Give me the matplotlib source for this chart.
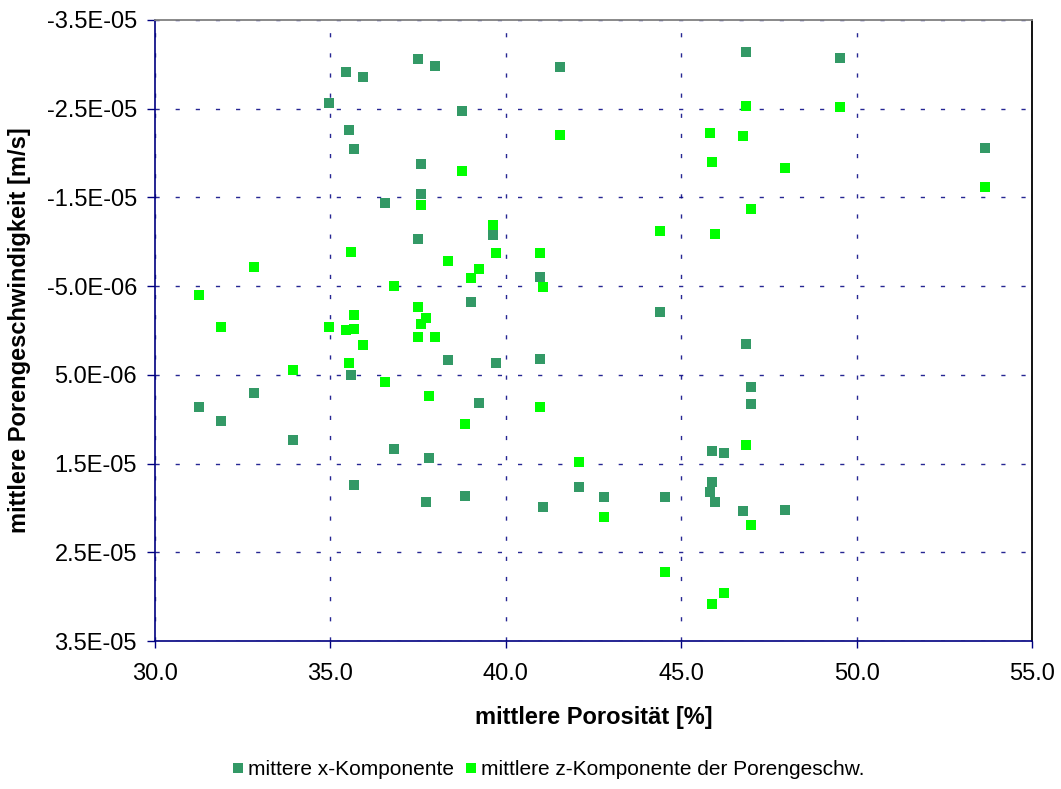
import numpy as np
import matplotlib
matplotlib.use("Agg")
import matplotlib.pyplot as plt
from matplotlib.ticker import FuncFormatter, MultipleLocator

plt.rcParams['font.family'] = ['Liberation Sans', 'DejaVu Sans']
plt.rcParams['lines.scale_dashes'] = False

# mittlere Porositaet [%] and Porengeschwindigkeit [m/s]
x_por = [37.50, 37.97, 35.44, 35.92, 34.97, 35.52, 35.68, 37.58, 37.58, 36.55,
         37.50, 41.55, 38.76, 39.64, 40.98, 39.00, 44.39, 46.85, 49.53, 53.65,
         35.60, 32.83, 31.25, 31.88, 33.94, 36.80, 37.82, 35.68, 37.73, 38.36,
         39.71, 40.98, 39.24, 38.84, 42.09, 42.80, 44.55, 41.06, 45.89, 46.21,
         45.89, 45.81, 45.97, 46.85, 47.00, 47.00, 46.76, 47.95]
x_vel = [-3.057, -2.982, -2.911, -2.855, -2.562, -2.265, -2.051, -1.878, -1.541, -1.439,
         -1.030, -2.967, -2.479, -1.079, -0.606, -0.324, -0.212, -3.136, -3.076, -2.055,
         0.501, 0.708, 0.866, 1.019, 1.230, 1.331, 1.432, 1.744, 1.931, 0.329,
         0.370, 0.321, 0.817, 1.869, 1.766, 1.879, 1.879, 1.992, 1.354, 1.384,
         1.710, 1.819, 1.931, 0.152, 0.640, 0.828, 2.029, 2.021]

z_por = [35.60, 32.83, 38.36, 36.80, 31.25, 35.68, 37.50, 37.73, 37.58, 35.68,
         37.58, 31.88, 34.97, 35.44, 35.92, 35.52, 37.50, 37.97, 33.94, 36.55,
         37.82, 41.55, 38.76, 45.81, 45.89, 39.64, 44.39, 45.97, 39.71, 40.98,
         39.24, 39.00, 41.06, 46.85, 49.53, 46.76, 47.95, 47.00, 53.65, 40.98,
         38.84, 42.09, 42.80, 44.55, 46.21, 45.89, 46.85, 47.00]
z_vel = [-0.880, -0.719, -0.789, -0.501, -0.395, -0.178, -0.268, -0.136, -0.077, -0.020,
         -1.417, -0.045, -0.041, -0.011, 0.160, 0.363, 0.073, 0.073, 0.449, 0.584,
         0.742, -2.205, -1.803, -2.224, -1.904, -1.191, -1.120, -1.093, -0.870, -0.876,
         -0.693, -0.587, -0.486, -2.532, -2.517, -2.197, -1.837, -1.372, -1.623, 0.866,
         1.057, 1.477, 2.105, 2.724, 2.956, 3.084, 1.294, 2.198]

x_vel = np.array(x_vel) * 1e-5
z_vel = np.array(z_vel) * 1e-5

fig = plt.figure(figsize=(10.61, 7.89), dpi=100)
ax = fig.add_axes([155 / 1061, 1 - 641 / 789, 877 / 1061, 621 / 789])

navy = '#000080'
ax.plot(x_por, x_vel, 's', color='#339966', markersize=6.8, markeredgewidth=0,
        label='mittere x-Komponente', zorder=3)
ax.plot(z_por, z_vel, 's', color='#00FF00', markersize=6.8, markeredgewidth=0,
        label='mittlere z-Komponente der Porengeschw.', zorder=3)

ax.set_xlim(30, 55)
ax.set_ylim(3.5e-5, -3.5e-5)
ax.xaxis.set_major_locator(MultipleLocator(5))
ax.set_yticks(np.arange(-3.5e-5, 3.6e-5, 1e-5))
ax.xaxis.set_major_formatter(FuncFormatter(lambda v, p: f'{v:.1f}'))
ax.yaxis.set_major_formatter(FuncFormatter(lambda v, p: f'{v:.1E}'))

ax.grid(True, color=navy, linewidth=1.0, linestyle=(0, (3, 11.5)), alpha=0.85)
ax.set_axisbelow(True)

for side in ['left', 'bottom']:
    ax.spines[side].set_color(navy)
    ax.spines[side].set_linewidth(1.2)
ax.spines['top'].set_color('#808080')
ax.spines['top'].set_linewidth(1.3)
ax.spines['right'].set_color('black')
ax.spines['right'].set_linewidth(1.3)

ax.tick_params(axis='both', colors=navy, labelcolor='black', labelsize=17, width=1)
ax.tick_params(axis='y', length=6, pad=7)
ax.tick_params(axis='x', length=5, pad=11)

ax.set_xlabel('mittlere Porosität [%]', fontsize=17, fontweight='bold')
ax.set_ylabel('mittlere Porengeschwindigkeit [m/s]', fontsize=17, fontweight='bold')
ax.xaxis.set_label_coords(0.5, -0.105)
ax.yaxis.set_label_coords(-0.141, 0.5)

fig.legend(loc='center', bbox_to_anchor=(0.517, 0.0241), ncol=2, frameon=False,
           fontsize=15, handletextpad=0.2, columnspacing=0.6, markerscale=1.05,
           handlelength=0.5, borderpad=0)

fig.savefig('out.png', dpi=100)
